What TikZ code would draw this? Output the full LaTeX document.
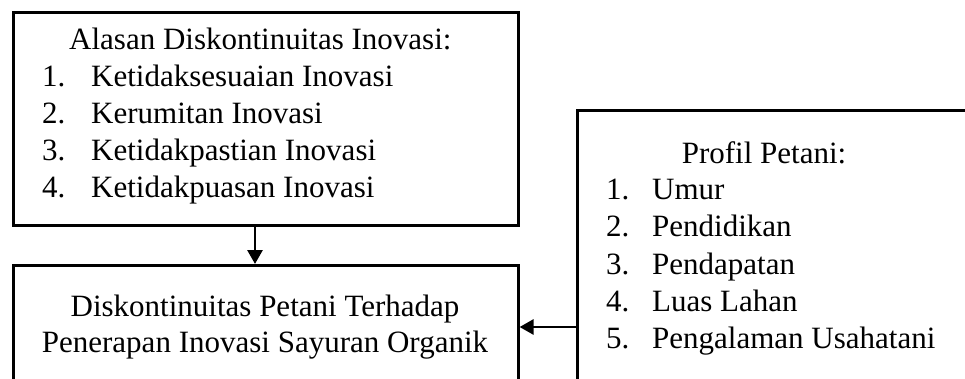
\documentclass[tikz,border=0pt]{standalone}
\usepackage{fontspec}
\setmainfont{Liberation Serif}
\usetikzlibrary{arrows.meta}
\begin{document}
\begin{tikzpicture}[x=1pt,y=-1pt,
  box/.style={draw,line width=2.6pt,rectangle,inner sep=0pt,anchor=north west},
  txt/.style={inner sep=0pt,anchor=base west,font=\fontsize{31}{37}\selectfont},
  ctxt/.style={txt,anchor=base},
  link/.style={line width=2.8pt,-{Triangle[width=15pt,length=14pt]}}]
\useasboundingbox (0,0) rectangle (965,378);
\clip (0,0) rectangle (965,378);

% boxes
\node[box,minimum width=505pt,minimum height=213pt] (alasan) at (12,11) {};
\node[box,minimum width=505pt,minimum height=200pt] (diskon) at (12,264) {};
\node[box,minimum width=450pt,minimum height=350pt] (profil) at (576,109) {};

% reasons for discontinuance
\node[txt] (alasanT) at (69,49) {Alasan Diskontinuitas Inovasi:};
\node[txt] (n1) at (42,86) {1.};   \node[txt] (t1) at (91,86) {Ketidaksesuaian Inovasi};
\node[txt] (n2) at (42,123) {2.};  \node[txt] (t2) at (91,123) {Kerumitan Inovasi};
\node[txt] (n3) at (42,160) {3.};  \node[txt] (t3) at (91,160) {Ketidakpastian Inovasi};
\node[txt] (n4) at (42,197) {4.};  \node[txt] (t4) at (91,197) {Ketidakpuasan Inovasi};

% outcome
\node[ctxt] (d1) at (265,316) {Diskontinuitas Petani Terhadap};
\node[ctxt] (d2) at (265,352) {Penerapan Inovasi Sayuran Organik};

% farmer profile
\node[ctxt] (profilT) at (764,163) {Profil Petani:};
\node[txt] (p1) at (606,199) {1.};  \node[txt] (q1) at (652,199) {Umur};
\node[txt] (p2) at (606,236) {2.};  \node[txt] (q2) at (652,236) {Pendidikan};
\node[txt] (p3) at (606,274) {3.};  \node[txt] (q3) at (652,274) {Pendapatan};
\node[txt] (p4) at (606,311) {4.};  \node[txt] (q4) at (652,311) {Luas Lahan};
\node[txt] (p5) at (606,348) {5.};  \node[txt] (q5) at (652,348) {Pengalaman Usahatani};

% connectors
\coordinate (a1) at (255,0);
\coordinate (a2) at (0,327);
\draw[link] (alasan.south -| a1) -- (diskon.north -| a1);
\draw[link] (profil.west |- a2) -- (diskon.east |- a2);
\end{tikzpicture}
\end{document}
